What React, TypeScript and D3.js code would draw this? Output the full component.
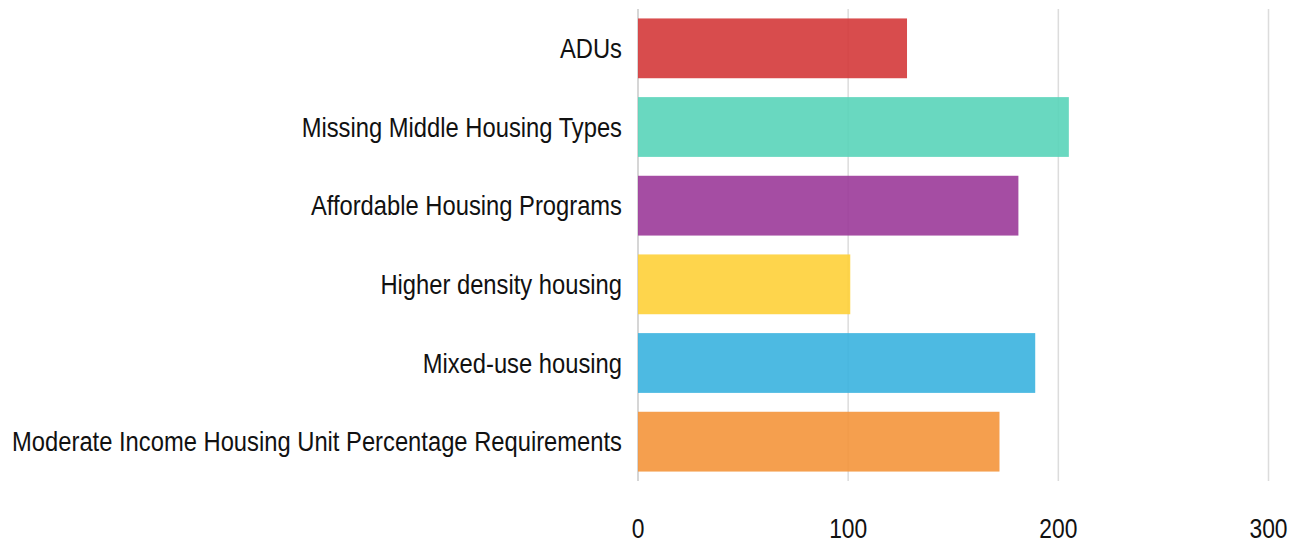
import React from "react";
import * as d3 from "d3";

const categories = [
  "ADUs",
  "Missing Middle Housing Types",
  "Affordable Housing Programs",
  "Higher density housing",
  "Mixed-use housing",
  "Moderate Income Housing Unit Percentage Requirements",
];
const counts = [128, 205, 181, 101, 189, 172];
const barColors = ["#d4383a", "#59d4b9", "#9b3a99", "#fed038", "#3ab3df", "#f4953b"];
const xTicks = [0, 100, 200, 300];

const width = 1303;
const height = 544;
const margin = { top: 9, right: 34, bottom: 63, left: 638 };
const font = "'Liberation Sans', Arial, sans-serif";
// the reference uses a narrow face; squeeze the regular one horizontally
const labelSqueeze = 0.864;
const tickSqueeze = 0.83;

export default function App() {
  const x = d3
    .scaleLinear()
    .domain([0, 300])
    .range([margin.left, margin.left + 630.5]);

  const y = d3
    .scaleBand<string>()
    .domain(categories)
    .range([margin.top, height - margin.bottom])
    .paddingInner(0.24)
    .paddingOuter(0.12);

  return (
    <div style={{ position: "fixed", left: 0, top: 0 }}>
      <svg width={width} height={height} style={{ display: "block", background: "#fff" }}>
        {/* grid */}
        {xTicks.map((t) => (
          <line
            key={"g" + t}
            x1={x(t)}
            x2={x(t)}
            y1={margin.top}
            y2={height - margin.bottom}
            stroke={t === 0 ? "#c8c8c8" : "#dcdcdc"}
            strokeWidth={1.5}
          />
        ))}

        {/* bars */}
        {categories.map((c, i) => (
          <rect
            key={c}
            x={x(0)}
            y={y(c)}
            width={x(counts[i]) - x(0)}
            height={y.bandwidth()}
            fill={barColors[i]}
            fillOpacity={0.9}
          />
        ))}

        {/* category labels */}
        {categories.map((c) => (
          <text
            key={"l" + c}
            transform={`translate(${x(0) - 16},${(y(c) ?? 0) + y.bandwidth() / 2}) scale(${labelSqueeze},1)`}
            textAnchor="end"
            dominantBaseline="central"
            fontFamily={font}
            fontSize={27.5}
            fill="#111"
          >
            {c}
          </text>
        ))}

        {/* x tick labels */}
        {xTicks.map((t) => (
          <text
            key={"t" + t}
            transform={`translate(${x(t)},528) scale(${tickSqueeze},1)`}
            textAnchor="middle"
            dominantBaseline="central"
            fontFamily={font}
            fontSize={27.5}
            fill="#111"
          >
            {t}
          </text>
        ))}
      </svg>
    </div>
  );
}
